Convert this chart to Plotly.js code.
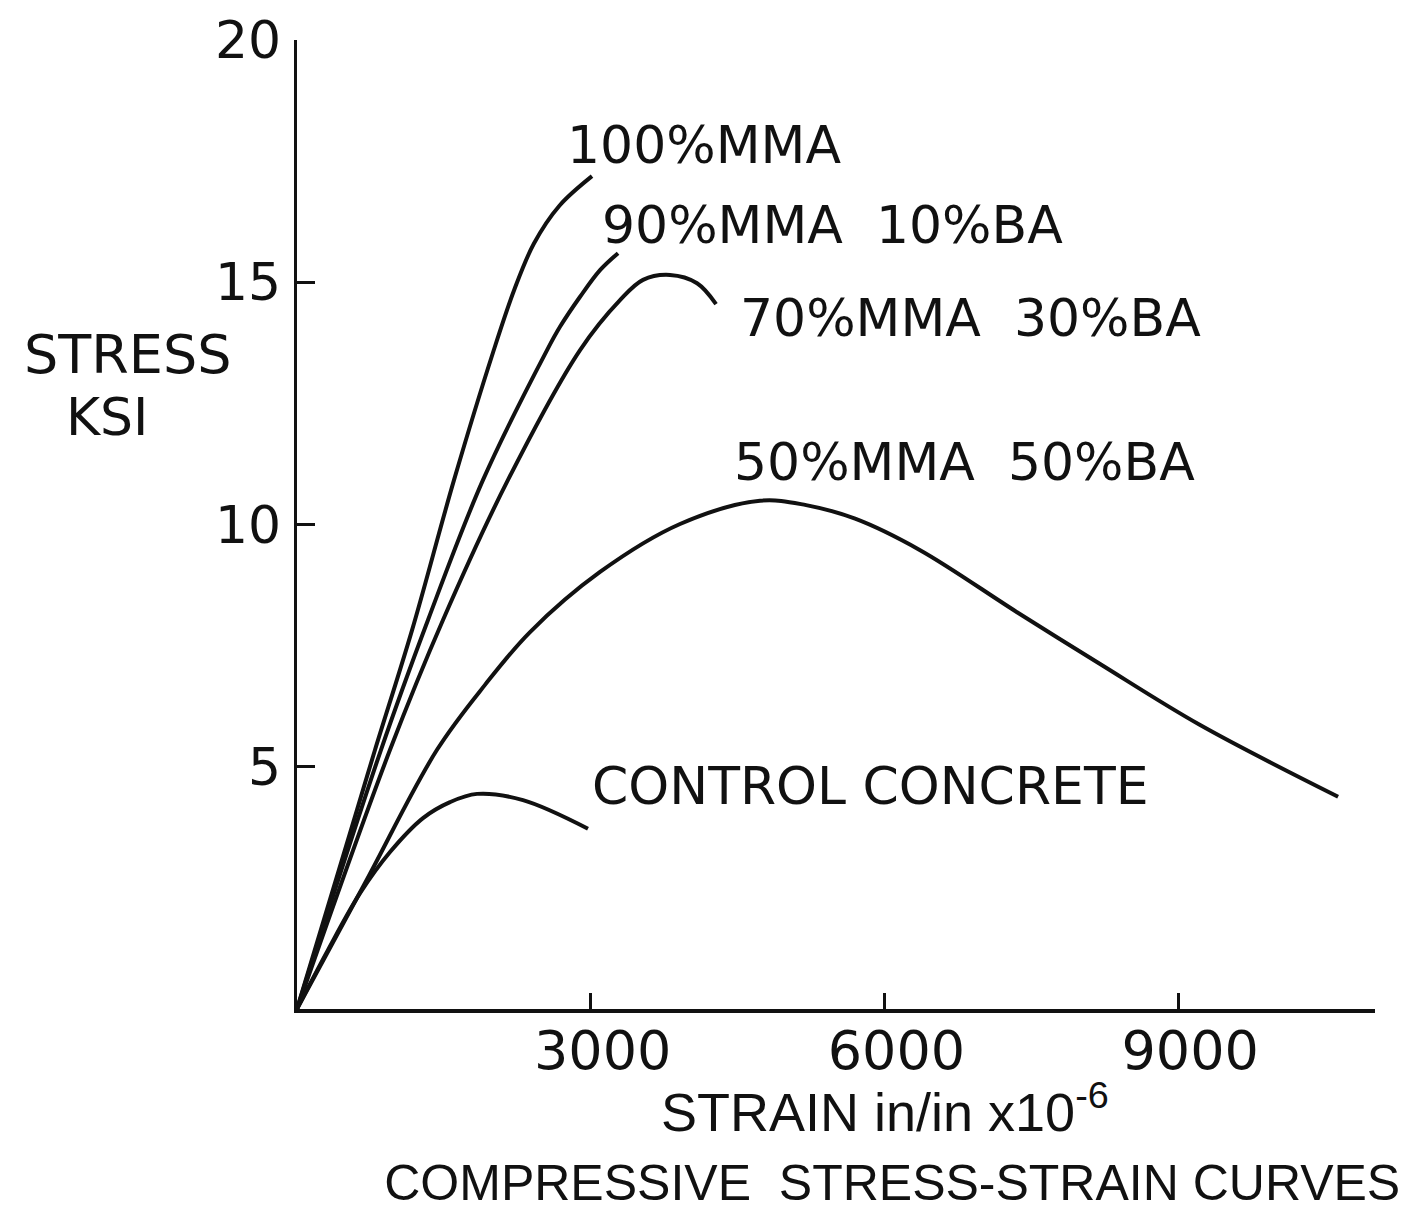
<!DOCTYPE html>
<html>
<head>
<meta charset="utf-8">
<script src="https://cdn.plot.ly/plotly-3.0.1.min.js"></script>
<style>html,body{margin:0;padding:0;background:#fff;}#chart{width:1414px;height:1217px;}</style>
</head>
<body>
<div id="chart"></div>
<script>
// ---- data (strain in in/in x 10^-6, stress in ksi) ----
const strain100 = [0, 613, 797, 1175, 1604, 2002, 2220, 2420, 2680, 3013];
const stress100 = [0, 4.11, 5.35, 7.82, 10.92, 13.55, 14.85, 15.80, 16.58, 17.19];

const strain90 = [0, 858, 1338, 1900, 2554, 2686, 2891, 3095, 3279];
const stress90 = [0, 5.35, 8.03, 10.92, 13.60, 14.08, 14.70, 15.25, 15.60];

const strain70 = [0, 950, 1491, 2155, 2891, 3299, 3534, 3810, 4086, 4280];
const stress70 = [0, 5.35, 8.03, 10.92, 13.60, 14.63, 15.05, 15.15, 14.98, 14.55];

const strain50 = [0, 695, 1430, 1920, 2380, 3095, 3912, 4729, 5200, 5700, 6364, 7354, 8202, 9224, 10633];
const stress50 = [0, 2.60, 5.35, 6.69, 7.78, 9.02, 10.01, 10.49, 10.40, 10.12, 9.47, 8.19, 7.12, 5.86, 4.38];

const strainCtrl = [0, 317, 644, 950, 1287, 1563, 1839, 2308, 2972];
const stressCtrl = [0, 1.22, 2.39, 3.24, 3.94, 4.27, 4.44, 4.31, 3.72];

const xTickVals = [3000, 6000, 9000];
const xTickText = ["3000", "6000", "9000"];
const yTickVals = [5, 10, 15, 20];
const yTickText = ["5", "10", "15", "20"];

const curveLabels = ["100%MMA", "90%MMA&nbsp;&nbsp;10%BA", "70%MMA&nbsp;&nbsp;30%BA", "50%MMA&nbsp;&nbsp;50%BA", "CONTROL CONCRETE"];
const labelX = [2737, 3095, 4505, 4443, 2993];
const labelY = [17.83, 16.18, 14.26, 11.29, 4.60];

const xTitle = "STRAIN in/in x10<sup>-6</sup>";
const yTitleLines = ["STRESS", "KSI"];
const chartTitle = "COMPRESSIVE&nbsp;&nbsp;STRESS-STRAIN CURVES";

// ---- build ----
const FONT = "DejaVu Sans, Verdana, sans-serif";
const NARROW = "Liberation Sans, Arial, sans-serif";
const lineStyle = {color: "#111", width: 4, shape: "spline", smoothing: 1};
const series = [
  [strain100, stress100],
  [strain90, stress90],
  [strain70, stress70],
  [strain50, stress50],
  [strainCtrl, stressCtrl]
];
const traces = series.map(s => ({
  x: s[0], y: s[1], type: "scatter", mode: "lines",
  line: lineStyle, hoverinfo: "skip", showlegend: false
}));

const annotations = curveLabels.map((t, i) => ({
  text: t, x: labelX[i], y: labelY[i], xref: "x", yref: "y",
  xanchor: "left", yanchor: "middle", showarrow: false,
  font: {family: FONT, size: 52, color: "#111"}
}));
annotations.push({
  text: yTitleLines[0], x: -0.157, y: 0.675, xref: "paper", yref: "paper",
  xanchor: "center", yanchor: "middle", showarrow: false,
  font: {family: FONT, size: 54, color: "#111"}
});
annotations.push({
  text: yTitleLines[1], x: -0.176, y: 0.611, xref: "paper", yref: "paper",
  xanchor: "center", yanchor: "middle", showarrow: false,
  font: {family: FONT, size: 52, color: "#111"}
});
annotations.push({
  text: xTitle, x: 0.545, y: -0.102, xref: "paper", yref: "paper",
  xanchor: "center", yanchor: "middle", showarrow: false,
  font: {family: NARROW, size: 54, color: "#111"}
});

const layout = {
  width: 1414, height: 1217,
  margin: {l: 297, r: 39, t: 40, b: 208},
  paper_bgcolor: "#fff", plot_bgcolor: "#fff",
  showlegend: false,
  title: {
    text: chartTitle, x: 0.631, xanchor: "center", y: 0.028, yanchor: "middle",
    xref: "container", yref: "container",
    font: {family: NARROW, size: 50, color: "#111"}
  },
  xaxis: {
    range: [0, 11010], showgrid: false, zeroline: false,
    showline: true, linecolor: "#111", linewidth: 3.5,
    ticks: "inside", ticklen: 16, tickwidth: 3, tickcolor: "#111",
    tickvals: xTickVals, ticktext: xTickText,
    tickfont: {family: FONT, size: 54, color: "#111"},
    ticklabelstandoff: -8, ticklabelshift: 12
  },
  yaxis: {
    range: [0, 20], showgrid: false, zeroline: false,
    showline: true, linecolor: "#111", linewidth: 3.5,
    ticks: "inside", ticklen: 18, tickwidth: 3, tickcolor: "#111",
    tickvals: yTickVals, ticktext: yTickText,
    tickfont: {family: FONT, size: 52, color: "#111"},
    ticklabelstandoff: 2
  },
  annotations: annotations
};

Plotly.newPlot("chart", traces, layout, {displayModeBar: false, staticPlot: true});
</script>
</body>
</html>
